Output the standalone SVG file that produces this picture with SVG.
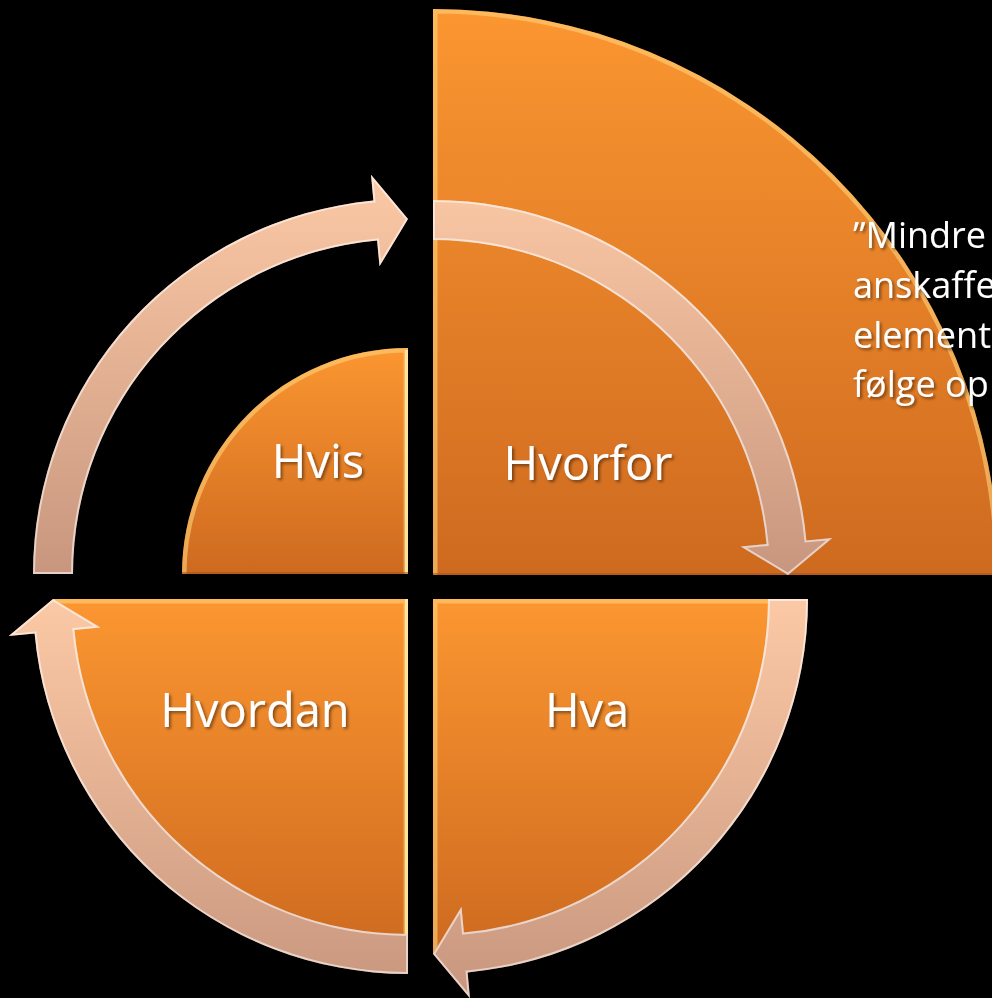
<svg xmlns="http://www.w3.org/2000/svg" width="992" height="998" viewBox="0 0 992 998">
  <defs>
    <linearGradient id="gBig" gradientUnits="userSpaceOnUse" x1="0" y1="9" x2="0" y2="575">
      <stop offset="0" stop-color="#FB9631"/>
      <stop offset="1" stop-color="#CE6A1F"/>
    </linearGradient>
    <linearGradient id="gHvis" gradientUnits="userSpaceOnUse" x1="0" y1="348" x2="0" y2="574">
      <stop offset="0" stop-color="#FB9631"/>
      <stop offset="1" stop-color="#CE6A1F"/>
    </linearGradient>
    <linearGradient id="gLow" gradientUnits="userSpaceOnUse" x1="0" y1="599" x2="0" y2="954">
      <stop offset="0" stop-color="#FB9631"/>
      <stop offset="1" stop-color="#CE6A1F"/>
    </linearGradient>
    <linearGradient id="aTop" gradientUnits="userSpaceOnUse" x1="0" y1="175" x2="0" y2="575">
      <stop offset="0" stop-color="#FCC9A6"/>
      <stop offset="1" stop-color="#C8967E"/>
    </linearGradient>
    <linearGradient id="aLow" gradientUnits="userSpaceOnUse" x1="0" y1="599" x2="0" y2="998">
      <stop offset="0" stop-color="#FCC9A6"/>
      <stop offset="1" stop-color="#C8967E"/>
    </linearGradient>
    <clipPath id="cBig"><path d="M433,575 L433,9 A566,566 0 0 1 999,575 Z"/></clipPath>
    <clipPath id="cHvis"><path d="M408,574 L182,574 A226,226 0 0 1 408,348 Z"/></clipPath>
    <clipPath id="cHvordan"><path d="M408,599 L53,599 A355,355 0 0 0 408,954 Z"/></clipPath>
    <clipPath id="cHva"><path d="M433,599 L788,599 A355,355 0 0 1 433,954 Z"/></clipPath>
    <clipPath id="cA1"><path d="M33,574 A375,375 0 0 1 373.4,200.6 L371,174.7 L408,219 L379.5,266.3 L377.1,240.4 A335,335 0 0 0 73,574 Z"/></clipPath>
    <clipPath id="cA2"><path d="M433,200 A375,375 0 0 1 806.4,540.4 L832.3,538 L788,575 L740.7,546.5 L766.6,544.1 A335,335 0 0 0 433,240 Z"/></clipPath>
    <clipPath id="cA3"><path d="M808,599 A375,375 0 0 1 467.6,972.4 L470,998.3 L433,954 L461.5,906.7 L463.9,932.6 A335,335 0 0 0 768,599 Z"/></clipPath>
    <clipPath id="cA4"><path d="M408,974 A375,375 0 0 1 34.6,633.6 L8.7,636 L53,599 L100.3,627.5 L74.4,629.9 A335,335 0 0 0 408,934 Z"/></clipPath>
    <filter id="ts" x="-20%" y="-20%" width="140%" height="140%">
      <feDropShadow dx="2" dy="2" stdDeviation="1.5" flood-color="#000" flood-opacity="0.45"/>
    </filter>
  </defs>
  <style>
    .hl { fill: none; stroke: #FFD27A; stroke-width: 9; stroke-opacity: 0.6; }
    .ahl { fill: none; stroke: #FFFFFF; stroke-width: 4; stroke-opacity: 0.55; }
    .lbl { font-family: "Open Sans", "Liberation Sans", sans-serif; font-size: 47px; fill: #FFFFFF; text-anchor: middle; filter: url(#ts); }
    .note { font-family: "Open Sans", "Liberation Sans", sans-serif; font-size: 36px; fill: #FFFFFF; filter: url(#ts); }
  </style>
  <rect x="0" y="0" width="992" height="998" fill="#000000"/>

  <g id="node-hvorfor">
    <path d="M433,575 L433,9 A566,566 0 0 1 999,575 Z" fill="url(#gBig)"/>
    <path clip-path="url(#cBig)" class="hl" d="M433,575 L433,9 A566,566 0 0 1 999,575"/>
    <line clip-path="url(#cBig)" x1="433" y1="575" x2="999" y2="575" stroke="#A9541A" stroke-width="4" stroke-opacity="0.6"/>
  </g>
  <g id="node-hvis">
    <path d="M408,574 L182,574 A226,226 0 0 1 408,348 Z" fill="url(#gHvis)"/>
    <path clip-path="url(#cHvis)" class="hl" d="M182,574 A226,226 0 0 1 408,348 L408,574"/>
    <line clip-path="url(#cHvis)" x1="408" y1="350" x2="408" y2="574" stroke="#FFF0B0" stroke-width="6" stroke-opacity="0.8"/>
    <line clip-path="url(#cHvis)" x1="182" y1="574" x2="408" y2="574" stroke="#A9541A" stroke-width="4" stroke-opacity="0.6"/>
  </g>
  <g id="node-hvordan">
    <path d="M408,599 L53,599 A355,355 0 0 0 408,954 Z" fill="url(#gLow)"/>
    <path clip-path="url(#cHvordan)" class="hl" d="M53,599 L408,599 L408,954"/>
    <line clip-path="url(#cHvordan)" x1="408" y1="599" x2="408" y2="954" stroke="#FFF0B0" stroke-width="6" stroke-opacity="0.8"/>
  </g>
  <g id="node-hva">
    <path d="M433,599 L788,599 A355,355 0 0 1 433,954 Z" fill="url(#gLow)"/>
    <path clip-path="url(#cHva)" class="hl" d="M433,954 L433,599 L788,599"/>
  </g>

  <g id="connectors">
    <g id="arrow-hvis-hvorfor">
      <path d="M33,574 A375,375 0 0 1 373.4,200.6 L371,174.7 L408,219 L379.5,266.3 L377.1,240.4 A335,335 0 0 0 73,574 Z" fill="url(#aTop)"/>
      <path clip-path="url(#cA1)" class="ahl" d="M33,574 A375,375 0 0 1 373.4,200.6 L371,174.7 L408,219 L379.5,266.3 L377.1,240.4 A335,335 0 0 0 73,574 Z"/>
    </g>
    <g id="arrow-hvorfor-hva">
      <path d="M433,200 A375,375 0 0 1 806.4,540.4 L832.3,538 L788,575 L740.7,546.5 L766.6,544.1 A335,335 0 0 0 433,240 Z" fill="url(#aTop)"/>
      <path clip-path="url(#cA2)" class="ahl" d="M433,200 A375,375 0 0 1 806.4,540.4 L832.3,538 L788,575 L740.7,546.5 L766.6,544.1 A335,335 0 0 0 433,240 Z"/>
    </g>
    <g id="arrow-hva-hvordan">
      <path d="M808,599 A375,375 0 0 1 467.6,972.4 L470,998.3 L433,954 L461.5,906.7 L463.9,932.6 A335,335 0 0 0 768,599 Z" fill="url(#aLow)"/>
      <path clip-path="url(#cA3)" class="ahl" d="M808,599 A375,375 0 0 1 467.6,972.4 L470,998.3 L433,954 L461.5,906.7 L463.9,932.6 A335,335 0 0 0 768,599 Z"/>
    </g>
    <g id="arrow-hvordan-hvis">
      <path d="M408,974 A375,375 0 0 1 34.6,633.6 L8.7,636 L53,599 L100.3,627.5 L74.4,629.9 A335,335 0 0 0 408,934 Z" fill="url(#aLow)"/>
      <path clip-path="url(#cA4)" class="ahl" d="M408,974 A375,375 0 0 1 34.6,633.6 L8.7,636 L53,599 L100.3,627.5 L74.4,629.9 A335,335 0 0 0 408,934 Z"/>
    </g>
  </g>

  <g id="labels">
    <text class="lbl" x="318" y="478">Hvis</text>
    <text class="lbl" x="588" y="480">Hvorfor</text>
    <text class="lbl" x="255" y="727">Hvordan</text>
    <text class="lbl" x="587" y="727">Hva</text>
  </g>
  <g id="note">
    <text class="note" x="853" y="248">”Mindre</text>
    <text class="note" x="853" y="298">anskaffe</text>
    <text class="note" x="853" y="348">element</text>
    <text class="note" x="853" y="397">følge op</text>
  </g>
</svg>
